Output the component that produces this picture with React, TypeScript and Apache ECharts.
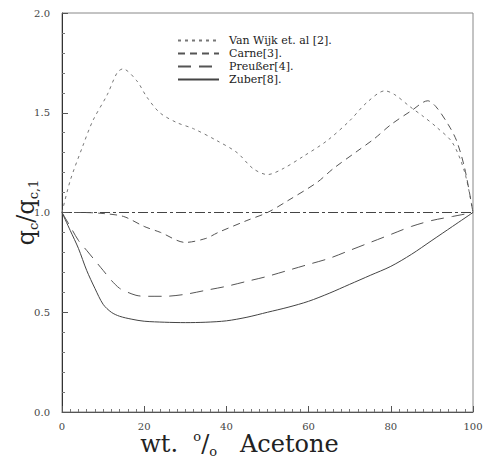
import React, { useEffect, useRef } from "react";
import * as echarts from "echarts";

const seriesNames = ["Van Wijk et. al [2].", "Carne[3].", "Preußer[4].", "Zuber[8]."];

const xVanWijk = [0, 2, 5, 7.5, 11, 13.4, 14.8, 18.2, 20.6, 23.8, 28, 32, 37.7, 42.6, 46.5, 50, 53.8, 58.6, 64.5, 70, 74.1, 78.6, 81, 84.7, 88, 91, 95, 98, 100];
const yVanWijk = [1.0, 1.16, 1.33, 1.46, 1.59, 1.70, 1.72, 1.66, 1.58, 1.50, 1.45, 1.42, 1.36, 1.30, 1.22, 1.19, 1.22, 1.28, 1.36, 1.46, 1.55, 1.61, 1.59, 1.53, 1.48, 1.43, 1.35, 1.20, 1.0];

const xCarne = [0, 5, 10, 15, 20, 24, 30, 35, 38, 45, 50, 55, 62, 66, 72, 76, 80, 85, 89, 91, 94, 96, 98, 100];
const yCarne = [1.0, 1.0, 0.995, 0.98, 0.93, 0.90, 0.85, 0.87, 0.90, 0.96, 1.0, 1.06, 1.15, 1.22, 1.31, 1.37, 1.44, 1.51, 1.56, 1.53, 1.44, 1.36, 1.22, 1.0];

const xPreusser = [0, 2, 4, 6, 8, 10, 12, 14, 16, 18, 20, 25, 30, 35, 40, 45, 50, 55, 60, 65, 70, 75, 80, 85, 90, 95, 100];
const yPreusser = [1.0, 0.93, 0.86, 0.81, 0.76, 0.71, 0.66, 0.62, 0.60, 0.585, 0.58, 0.58, 0.59, 0.61, 0.63, 0.655, 0.68, 0.71, 0.74, 0.77, 0.81, 0.85, 0.89, 0.93, 0.96, 0.98, 1.0];

const xZuber = [0, 2, 4, 6, 8, 10, 12, 14, 17, 20, 25, 30, 35, 40, 45, 50, 55, 60, 65, 70, 75, 80, 85, 90, 95, 100];
const yZuber = [1.0, 0.91, 0.82, 0.71, 0.62, 0.54, 0.50, 0.48, 0.465, 0.455, 0.45, 0.448, 0.45, 0.457, 0.475, 0.50, 0.525, 0.555, 0.595, 0.64, 0.685, 0.73, 0.79, 0.86, 0.93, 1.0];

const xRef = [0, 100];
const yRef = [1.0, 1.0];

const zip = (xs: number[], ys: number[]) => xs.map((x, i) => [x, ys[i]]);

const FONT = "DejaVu Serif";

export default function App() {
  const ref = useRef<HTMLDivElement>(null);
  useEffect(() => {
    if (!ref.current) return;
    const chart = echarts.init(ref.current, undefined, { renderer: "svg" });
    const lineBase = { type: "line", symbol: "none", smooth: 0.3, z: 3 };
    chart.setOption({
      animation: false,
      backgroundColor: "#fff",
      textStyle: { fontFamily: FONT },
      grid: {
        left: 62, right: 17, top: 13, bottom: 47,
        outerBoundsMode: "none",
        containLabel: false,
        show: true, borderColor: "#888", borderWidth: 1, backgroundColor: "transparent",
      },
      legend: {
        data: seriesNames,
        orient: "vertical",
        left: 177,
        top: 34,
        padding: 0,
        itemGap: 0,
        itemWidth: 41,
        itemHeight: 13,
        itemStyle: { opacity: 0 },
        textStyle: { fontFamily: FONT, fontSize: 11, color: "#222", lineHeight: 13, padding: [0, 0, 0, 5] },
      },
      xAxis: {
        type: "value",
        min: 0, max: 100, interval: 20,
        name: "{n|wt.  }{sup|o}{n|/}{sub|o}{n|   Acetone}",
        nameLocation: "middle",
        nameGap: 18,
        nameMoveOverlap: false,
        nameTextStyle: {
          color: "#222",
          padding: [0, 56, 0, 0],
          rich: {
            n: { fontFamily: FONT, fontSize: 24, color: "#222", lineHeight: 28 },
            sup: { fontFamily: FONT, fontSize: 13, color: "#222", lineHeight: 13, verticalAlign: "top" },
            sub: { fontFamily: FONT, fontSize: 13, color: "#222", lineHeight: 13, verticalAlign: "bottom" },
          },
        },
        axisLine: { show: true, lineStyle: { color: "#555", width: 1 } },
        axisTick: { show: true, inside: true, length: 6, lineStyle: { color: "#555" } },
        minorTick: { show: true, splitNumber: 10, length: 3, lineStyle: { color: "#777" } },
        splitLine: { show: false },
        axisLabel: { fontFamily: FONT, fontSize: 10, color: "#444", margin: 9 },
      },
      yAxis: {
        type: "value",
        min: 0, max: 2, interval: 0.5,
        name: "{q|q}{s|c}{q|/}{q|q}{s|c,1}",
        nameLocation: "middle",
        nameGap: 22,
        nameMoveOverlap: false,
        nameTextStyle: {
          color: "#222",
          rich: {
            q: { fontFamily: FONT, fontSize: 24, color: "#222", lineHeight: 28 },
            s: { fontFamily: FONT, fontSize: 13, color: "#222", lineHeight: 13, verticalAlign: "bottom" },
          },
        },
        axisLine: { show: true, lineStyle: { color: "#333", width: 1 } },
        axisTick: { show: true, inside: true, length: 6, lineStyle: { color: "#555" } },
        minorTick: { show: true, splitNumber: 5, length: 3, lineStyle: { color: "#777" } },
        splitLine: { show: false },
        axisLabel: { fontFamily: FONT, fontSize: 10, color: "#444", margin: 12, formatter: (v: number) => v.toFixed(1) },
      },
      series: [
        { ...lineBase, name: seriesNames[0], data: zip(xVanWijk, yVanWijk), lineStyle: { color: "#777", width: 1, type: [3, 4] }, itemStyle: { color: "#777" } },
        { ...lineBase, name: seriesNames[1], data: zip(xCarne, yCarne), lineStyle: { color: "#555", width: 1, type: [7, 5] }, itemStyle: { color: "#555" } },
        { ...lineBase, name: seriesNames[2], data: zip(xPreusser, yPreusser), lineStyle: { color: "#555", width: 1, type: [13, 8] }, itemStyle: { color: "#555" } },
        { ...lineBase, name: seriesNames[3], data: zip(xZuber, yZuber), lineStyle: { color: "#444", width: 1, type: "solid" }, itemStyle: { color: "#444" } },
        { type: "line", name: "ref", symbol: "none", data: zip(xRef, yRef), lineStyle: { color: "#444", width: 1, type: [10, 3, 3, 3] }, z: 2 },
      ],
    });
    return () => chart.dispose();
  }, []);
  return <div ref={ref} style={{ position: "absolute", left: 0, top: 0, width: 490, height: 459, background: "#fff" }} />;
}
